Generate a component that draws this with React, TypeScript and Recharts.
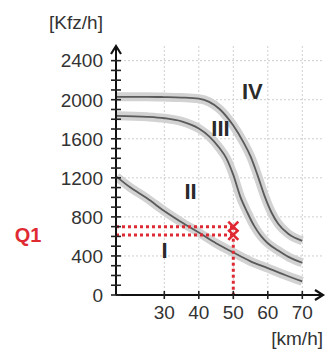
import React from 'react';
import {
  ComposedChart,
  Line,
  XAxis,
  YAxis,
  CartesianGrid,
  ReferenceLine,
  ReferenceDot,
} from 'recharts';

// ---- data ----
const speedsI = [16.2, 20, 25, 30, 35, 40, 45, 50, 55, 60, 65, 70];
const flowI = [1210, 1105, 990, 860, 745, 640, 530, 435, 345, 275, 205, 140];

const speedsIII = [16.2, 25, 30, 35, 40, 43, 46, 48, 50, 52, 54, 56, 58, 60, 63, 66, 70];
const flowIII = [1835, 1825, 1810, 1778, 1705, 1625, 1505, 1400, 1230, 1010, 850, 710, 605, 530, 455, 390, 330];

const speedsIV = [16.2, 25, 30, 35, 40, 43, 46, 50, 53, 55, 57, 59, 61, 63, 66, 70];
const flowIV = [2030, 2030, 2027, 2022, 2010, 1978, 1905, 1735, 1560, 1420, 1230, 1020, 850, 730, 625, 555];

const xTicks = [30, 40, 50, 60, 70];
const yTicks = [0, 100, 200, 300, 400, 500, 600, 700, 800, 900, 1000, 1100, 1200, 1300, 1400, 1500, 1600, 1700, 1800, 1900, 2000, 2100, 2200, 2300, 2400];
const yLabelTicks = [0, 400, 800, 1200, 1600, 2000, 2400];
const gridY = [400, 800, 1200, 1600, 2000, 2400];

const regionLabels = ['IV', 'III', 'II', 'I'];
const regionLabelX = [55.5, 46.3, 37.6, 30.1];
const regionLabelY = [2085, 1713, 1060, 460];

const q1Speed = 50;
const q1Flows = [700, 615];

const toData = (xs: number[], ys: number[]) => xs.map((x, i) => ({ x, y: ys[i] }));
const curves = [toData(speedsI, flowI), toData(speedsIII, flowIII), toData(speedsIV, flowIV)];

const FONT = '"Liberation Sans", Arial, Helvetica, sans-serif';
const RED = '#e02a33';

const YTick = (props: any) => {
  const { x, y, payload } = props;
  const v = payload.value;
  const major = yLabelTicks.includes(v);
  return (
    <g>
      <line x1={x - 5} x2={x + 5} y1={y} y2={y} stroke="#222" strokeWidth={1.6} />
      {major && (
        <text x={x - 13} y={y} dy="0.36em" textAnchor="end" fontSize={19} fill="#333" fontFamily={FONT}>
          {v}
        </text>
      )}
    </g>
  );
};

const XTick = (props: any) => {
  const { x, y, payload } = props;
  return (
    <g>
      <line x1={x} x2={x} y1={y - 4} y2={y + 4} stroke="#222" strokeWidth={1.6} />
      <text x={x} y={y + 17} dy="0.36em" textAnchor="middle" fontSize={19} fill="#333" fontFamily={FONT}>
        {payload.value}
      </text>
    </g>
  );
};

const ArrowUp = (p: any) => (
  <path d={`M ${p.cx - 5} ${p.cy + 8} L ${p.cx} ${p.cy} L ${p.cx + 5} ${p.cy + 8}`} fill="none" stroke="#111" strokeWidth={2.2} />
);
const ArrowRight = (p: any) => (
  <path d={`M ${p.cx - 8} ${p.cy - 5} L ${p.cx} ${p.cy} L ${p.cx - 8} ${p.cy + 5}`} fill="none" stroke="#111" strokeWidth={2.2} />
);
const Cross = (p: any) => (
  <path d={`M ${p.cx - 5} ${p.cy - 5} L ${p.cx + 5} ${p.cy + 5} M ${p.cx + 5} ${p.cy - 5} L ${p.cx - 5} ${p.cy + 5}`} stroke={RED} strokeWidth={2.6} />
);
const makeLabel = (txt: string) => (p: any) => (
  <text x={p.cx} y={p.cy} dy="0.36em" textAnchor="middle" fontSize={22} fontWeight="bold" fill="#2a2a2a" fontFamily={FONT}>
    {txt}
  </text>
);

export default function App() {
  return (
    <div style={{ position: 'absolute', left: 0, top: 0, background: '#fff' }}>
      <ComposedChart width={327} height={350} margin={{ top: 46, right: 4, bottom: 25, left: 56 }}>
        <CartesianGrid
          stroke="#cfcfcf"
          strokeDasharray="2 2"
          horizontalValues={gridY}
          verticalValues={xTicks}
        />
        <XAxis
          type="number"
          dataKey="x"
          domain={[16, 76]}
          allowDataOverflow
          ticks={xTicks}
          tick={<XTick />}
          tickLine={false}
          tickSize={0}
          tickMargin={0}
          height={30}
          axisLine={{ stroke: '#111', strokeWidth: 2 }}
        />
        <YAxis
          type="number"
          dataKey="y"
          domain={[0, 2550]}
          allowDataOverflow
          ticks={yTicks}
          interval={0}
          tick={<YTick />}
          tickLine={false}
          tickSize={0}
          tickMargin={0}
          width={60}
          axisLine={{ stroke: '#111', strokeWidth: 2 }}
        />
        {curves.map((d, i) => (
          <Line
            key={'h' + i}
            data={d}
            dataKey="y"
            type="monotone"
            stroke="#d2d2d2"
            strokeWidth={9}
            dot={false}
            activeDot={false}
            isAnimationActive={false}
          />
        ))}
        {curves.map((d, i) => (
          <Line
            key={'c' + i}
            data={d}
            dataKey="y"
            type="monotone"
            stroke="#5a5a5a"
            strokeWidth={1.8}
            dot={false}
            activeDot={false}
            isAnimationActive={false}
          />
        ))}
        {q1Flows.map((f, i) => (
          <ReferenceLine
            key={'qh' + i}
            segment={[{ x: 16, y: f }, { x: q1Speed, y: f }]}
            stroke={RED}
            strokeWidth={3}
            strokeDasharray="3 3"
          />
        ))}
        <ReferenceLine
          segment={[{ x: q1Speed, y: q1Flows[0] }, { x: q1Speed, y: 0 }]}
          stroke={RED}
          strokeWidth={3}
          strokeDasharray="3 3"
        />
        {q1Flows.map((f, i) => (
          <ReferenceDot key={'qx' + i} x={q1Speed} y={f} r={5} shape={Cross} />
        ))}
        {regionLabels.map((t, i) => (
          <ReferenceDot key={'rl' + i} x={regionLabelX[i]} y={regionLabelY[i]} r={5} shape={makeLabel(t)} />
        ))}
        <ReferenceDot x={16} y={2550} r={5} shape={ArrowUp} />
        <ReferenceDot x={76} y={0} r={5} shape={ArrowRight} />
        <text x={28} y={235} dy="0.36em" textAnchor="middle" fontSize={20} fontWeight="bold" fill={RED} fontFamily={FONT}>
          Q1
        </text>
        <text x={76} y={22} dy="0.36em" textAnchor="middle" fontSize={19} fill="#333" fontFamily={FONT}>
          [Kfz/h]
        </text>
        <text x={323} y={338} dy="0.36em" textAnchor="end" fontSize={19} fill="#333" fontFamily={FONT}>
          [km/h]
        </text>
      </ComposedChart>
    </div>
  );
}
